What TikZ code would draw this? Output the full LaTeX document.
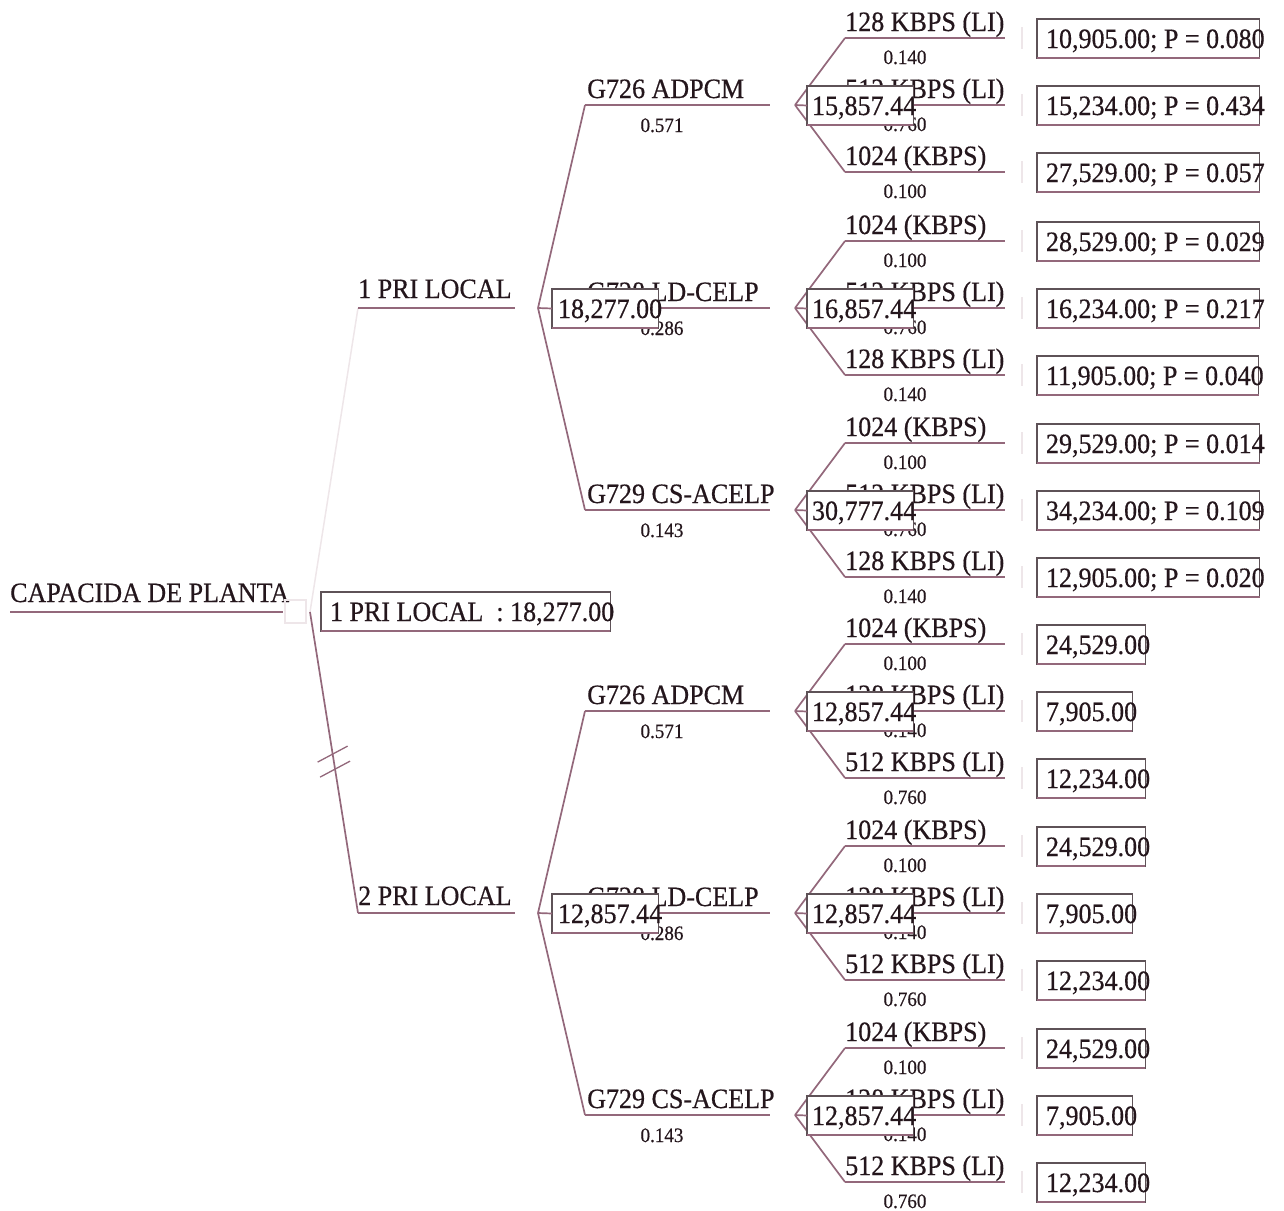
\documentclass[tikz,border=0pt]{standalone}
\usepackage{fontspec}
\setmainfont[FakeStretch=0.93,FakeBold=0.5]{Liberation Serif}
\usetikzlibrary{calc}

\definecolor{ink}{HTML}{24161C}
\definecolor{branchc}{HTML}{93687B}
\definecolor{framec}{HTML}{5E5257}
\definecolor{ghost}{HTML}{EEE6E9}

\tikzset{
  branch/.style={draw=branchc, line width=1.7pt},
  ghostline/.style={draw=ghost, line width=1.5pt},
  lab/.style={anchor=base west, inner sep=0pt, text=ink,
    font=\fontsize{28}{32}\selectfont},
  prob/.style={anchor=base, inner sep=0pt, text=ink,
    font=\fontsize{20.5}{24}\selectfont},
  valbox/.style={anchor=base west, inner xsep=0pt, inner ysep=0pt,
    outer sep=0pt, text height=29pt, text depth=10pt, draw=framec,
    line width=1.3pt, fill=white, text=ink,
    font=\fontsize{28}{32}\selectfont},
}

% value box: name, left x, centre y, content (with its own padding)
\newcommand\valnode[4]{%
  \node[valbox] (#1) at (#2,#3+10) {#4};
  \draw[branch] (#1.south west) -- (#1.south east);
}

% chance node with three outcomes: id, centre y, expected value, outcomes
\newcommand\chancegroup[4]{%
  \coordinate (#1-tip) at (795,#2);
  \foreach \lab/\pr/\out [count=\k] in {#4} {
    \pgfmathsetmacro\yy{#2+(\k-2)*67}
    \coordinate (#1-s\k) at (845,\yy);
    \coordinate (#1-e\k) at (1005,\yy);
    \draw[branch] (#1-s\k) -- (#1-e\k);
    \node[lab] (#1-l\k) at (845,\yy-7) {\lab};
    \node[prob] (#1-p\k) at (905,\yy+26) {\pr};
    \ifnum\k=2\else \draw[branch] (#1-tip) -- (#1-s\k);\fi
    \coordinate (#1-t\k) at (1022,\yy);
    \draw[ghostline] ([yshift=-11pt]#1-t\k) -- ([yshift=11pt]#1-t\k);
    \valnode{#1-o\k}{1037}{\yy}{\hspace*{9pt}\out\hspace*{-5pt}}
  }
  \valnode{#1-v}{807}{#2}{\hspace*{5pt}#3\hspace*{-3pt}}
  \draw[branch] (#1-tip) -- (#1-v.west);
}

% first-level branch: id, y, label, probability
\newcommand\codecbranch[4]{%
  \coordinate (#1-s) at (585,#2);
  \coordinate (#1-e) at (770,#2);
  \draw[branch] (#1-s) -- (#1-e);
  \node[lab] (#1-l) at (587,#2-7) {#3};
  \node[prob] (#1-p) at (662,#2+27) {#4};
}

\begin{document}
\begin{tikzpicture}[x=1pt,y=-1pt]
\useasboundingbox (0,0) rectangle (1284,1210);

% ---- root decision ----
\node[lab] (root) at (10,602) {CAPACIDA DE PLANTA};
\coordinate (root-s) at (10,612);
\coordinate (root-e) at (283,612);
\draw[branch] (root-s) -- (root-e);
\draw[ghostline] (285,600) rectangle (306,623);
\coordinate (root-tip) at (310,612);

\coordinate (b1-s) at (358,308);
\coordinate (b1-e) at (515,308);
\coordinate (b2-s) at (358,913);
\coordinate (b2-e) at (515,913);
\draw[ghostline] (root-tip) -- (b1-s);
\draw[branch] (root-tip) -- (b2-s);
\draw[branch] (b1-s) -- (b1-e);
\draw[branch] (b2-s) -- (b2-e);
\node[lab] (b1-l) at (358,298) {1 PRI LOCAL};
\node[lab] (b2-l) at (358,905) {2 PRI LOCAL};

% rejected-branch marks
\coordinate (h1) at ($(root-tip)!0.472!(b2-s)$);
\coordinate (h2) at ($(root-tip)!0.522!(b2-s)$);
\draw[branch, line width=1.3pt] ($(h1)+(-15,8)$) -- ($(h1)+(15,-8)$);
\draw[branch, line width=1.3pt] ($(h2)+(-15,8)$) -- ($(h2)+(15,-8)$);

\valnode{rootval}{321}{611}{\hspace*{9pt}1 PRI LOCAL\ \ : 18,277.00\hspace*{-4pt}}

% ---- 1 PRI LOCAL ----
\coordinate (a-tip) at (538,308);
\codecbranch{a1}{105}{G726 ADPCM}{0.571}
\codecbranch{a2}{308}{G728 LD-CELP}{0.286}
\codecbranch{a3}{510}{G729 CS-ACELP}{0.143}
\draw[branch] (a-tip) -- (a1-s);
\draw[branch] (a-tip) -- (a3-s);
\valnode{a-v}{552}{308}{\hspace*{6pt}18,277.00\hspace*{-4pt}}
\draw[branch] (a-tip) -- (a-v.west);

\chancegroup{g1}{105}{15,857.44}{%
  {128 KBPS (LI)}/{0.140}/{10,905.00; P = 0.080},
  {512 KBPS (LI)}/{0.760}/{15,234.00; P = 0.434},
  {1024 (KBPS)}/{0.100}/{27,529.00; P = 0.057}}
\chancegroup{g2}{308}{16,857.44}{%
  {1024 (KBPS)}/{0.100}/{28,529.00; P = 0.029},
  {512 KBPS (LI)}/{0.760}/{16,234.00; P = 0.217},
  {128 KBPS (LI)}/{0.140}/{11,905.00; P = 0.040}}
\chancegroup{g3}{510}{30,777.44}{%
  {1024 (KBPS)}/{0.100}/{29,529.00; P = 0.014},
  {512 KBPS (LI)}/{0.760}/{34,234.00; P = 0.109},
  {128 KBPS (LI)}/{0.140}/{12,905.00; P = 0.020}}

% ---- 2 PRI LOCAL ----
\coordinate (b-tip) at (538,913);
\codecbranch{c1}{711}{G726 ADPCM}{0.571}
\codecbranch{c2}{913}{G728 LD-CELP}{0.286}
\codecbranch{c3}{1115}{G729 CS-ACELP}{0.143}
\draw[branch] (b-tip) -- (c1-s);
\draw[branch] (b-tip) -- (c3-s);
\valnode{b-v}{552}{913}{\hspace*{6pt}12,857.44\hspace*{-4pt}}
\draw[branch] (b-tip) -- (b-v.west);

\chancegroup{g4}{711}{12,857.44}{%
  {1024 (KBPS)}/{0.100}/{24,529.00},
  {128 KBPS (LI)}/{0.140}/{7,905.00},
  {512 KBPS (LI)}/{0.760}/{12,234.00}}
\chancegroup{g5}{913}{12,857.44}{%
  {1024 (KBPS)}/{0.100}/{24,529.00},
  {128 KBPS (LI)}/{0.140}/{7,905.00},
  {512 KBPS (LI)}/{0.760}/{12,234.00}}
\chancegroup{g6}{1115}{12,857.44}{%
  {1024 (KBPS)}/{0.100}/{24,529.00},
  {128 KBPS (LI)}/{0.140}/{7,905.00},
  {512 KBPS (LI)}/{0.760}/{12,234.00}}

\end{tikzpicture}
\end{document}
